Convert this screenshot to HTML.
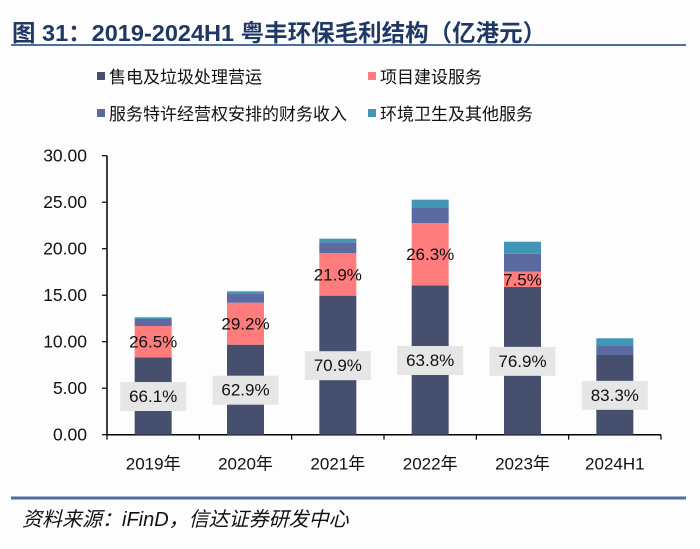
<!DOCTYPE html>
<html><head><meta charset="utf-8"><style>
body{margin:0;width:700px;height:544px;background:#fdfdfd;overflow:hidden;font-family:"Liberation Sans","Noto Sans CJK SC",sans-serif;}
</style></head><body>
<svg width="700" height="544" xmlns="http://www.w3.org/2000/svg">
<text x="12" y="41" font-size="23.5" font-weight="bold" fill="#1f3864" font-family="Liberation Sans, Noto Sans CJK SC, sans-serif">图 31：2019-2024H1 粤丰环保毛利结构（亿港元）</text>
<line x1="11" y1="45" x2="686" y2="45" stroke="#4a6fa0" stroke-width="2"/>
<g id="legend" font-size="17" fill="#111"></g>
<g id="axes"></g>
<g id="bars"></g>
<g id="labels"></g>
<line x1="11" y1="498" x2="686" y2="498" stroke="#4a6fa0" stroke-width="3"/>
<text x="22" y="526" font-size="20" font-style="italic" fill="#111">资料来源：iFinD，信达证券研发中心</text>
</svg>
<script>
const categories=["2019年","2020年","2021年","2022年","2023年","2024H1"];
const seriesNames=["售电及垃圾处理营运","项目建设服务","服务特许经营权安排的财务收入","环境卫生及其他服务"];
const s1=[8.32,9.68,14.95,16.06,15.88,8.57];
const s2=[3.37,4.51,4.59,6.70,1.65,0];
const s3=[0.75,1.01,1.15,1.69,1.93,0.97];
const s4=[0.18,0.22,0.39,0.82,1.29,0.83];
const pct1=["66.1%","62.9%","70.9%","63.8%","76.9%","83.3%"];
const pct2=["26.5%","29.2%","21.9%","26.3%","7.5%",""];
const yTicks=[0,5,10,15,20,25,30];
const colors=["#464f6d","#ff7c7c","#5b6aa0","#4096b4"];
const NS="http://www.w3.org/2000/svg";
const X0=107,X1=661,Y0=434.7,Ymax=30,PPU=(434.7-155.7)/30;
const y=v=>Y0-v*PPU;
const cw=(X1-X0)/categories.length;
const xc=i=>X0+cw*(i+0.5);
function mk(t,a,p){const e=document.createElementNS(NS,t);for(const k in a)e.setAttribute(k,a[k]);p.appendChild(e);return e;}
const axes=document.getElementById('axes'),bars=document.getElementById('bars'),labels=document.getElementById('labels'),legend=document.getElementById('legend');
const lpos=[[97,77],[368,77],[97,114],[368,114]];
seriesNames.forEach((n,i)=>{
 const r=mk('rect',{x:lpos[i][0],y:lpos[i][1]-5,width:8,height:8,fill:colors[i]},legend);
 
 
 const t=mk('text',{x:lpos[i][0]+12,y:lpos[i][1]+6},legend);t.textContent=n;
 
 
});
const ya=mk('line',{x1:X0,y1:y(30),x2:X0,y2:Y0,stroke:'#000','stroke-width':1.5},axes);


const xa=mk('line',{x1:X0,y1:Y0,x2:X1,y2:Y0,stroke:'#000','stroke-width':1.5},axes);


yTicks.forEach(v=>{
 mk('line',{x1:X0-5,y1:y(v),x2:X0,y2:y(v),stroke:'#000','stroke-width':1.2},axes);
 const t=mk('text',{x:X0-20,y:y(v)+6,'font-size':17.5,'text-anchor':'end',fill:'#111'},axes);t.textContent=v.toFixed(2);
 
 
});
for(let i=0;i<=categories.length;i++)mk('line',{x1:X0+cw*i,y1:Y0,x2:X0+cw*i,y2:Y0+5,stroke:'#000','stroke-width':1.2},axes);
categories.forEach((c,i)=>{
 const t=mk('text',{x:xc(i),y:Y0+35,'font-size':17,'text-anchor':'middle',fill:'#111'},axes);t.textContent=c;
 
 
});
const series=[s1,s2,s3,s4];const bw=37;
categories.forEach((c,i)=>{
 let base=0;
 series.forEach((s,k)=>{
  const v=s[i];if(v>0){
   const r=mk('rect',{x:xc(i)-bw/2,y:y(base+v),width:bw,height:v*PPU,fill:colors[k]},bars);
   
   
  }
  base+=v;
 });
 const m1=y(s1[i]/2);
 const b=mk('rect',{x:xc(i)-33,y:m1-14,width:66,height:29,fill:'#e6e6e6'},labels);
 
 
 const t1=mk('text',{x:xc(i),y:m1+6,'font-size':17,'text-anchor':'middle',fill:'#111'},labels);t1.textContent=pct1[i];
 
 
 if(pct2[i]){
  const m2=y(s1[i]+s2[i]/2);
  const t2=mk('text',{x:xc(i),y:m2+6,'font-size':17,'text-anchor':'middle',fill:'#111'},labels);t2.textContent=pct2[i];
  
  
 }
});
</script>
</body></html>
